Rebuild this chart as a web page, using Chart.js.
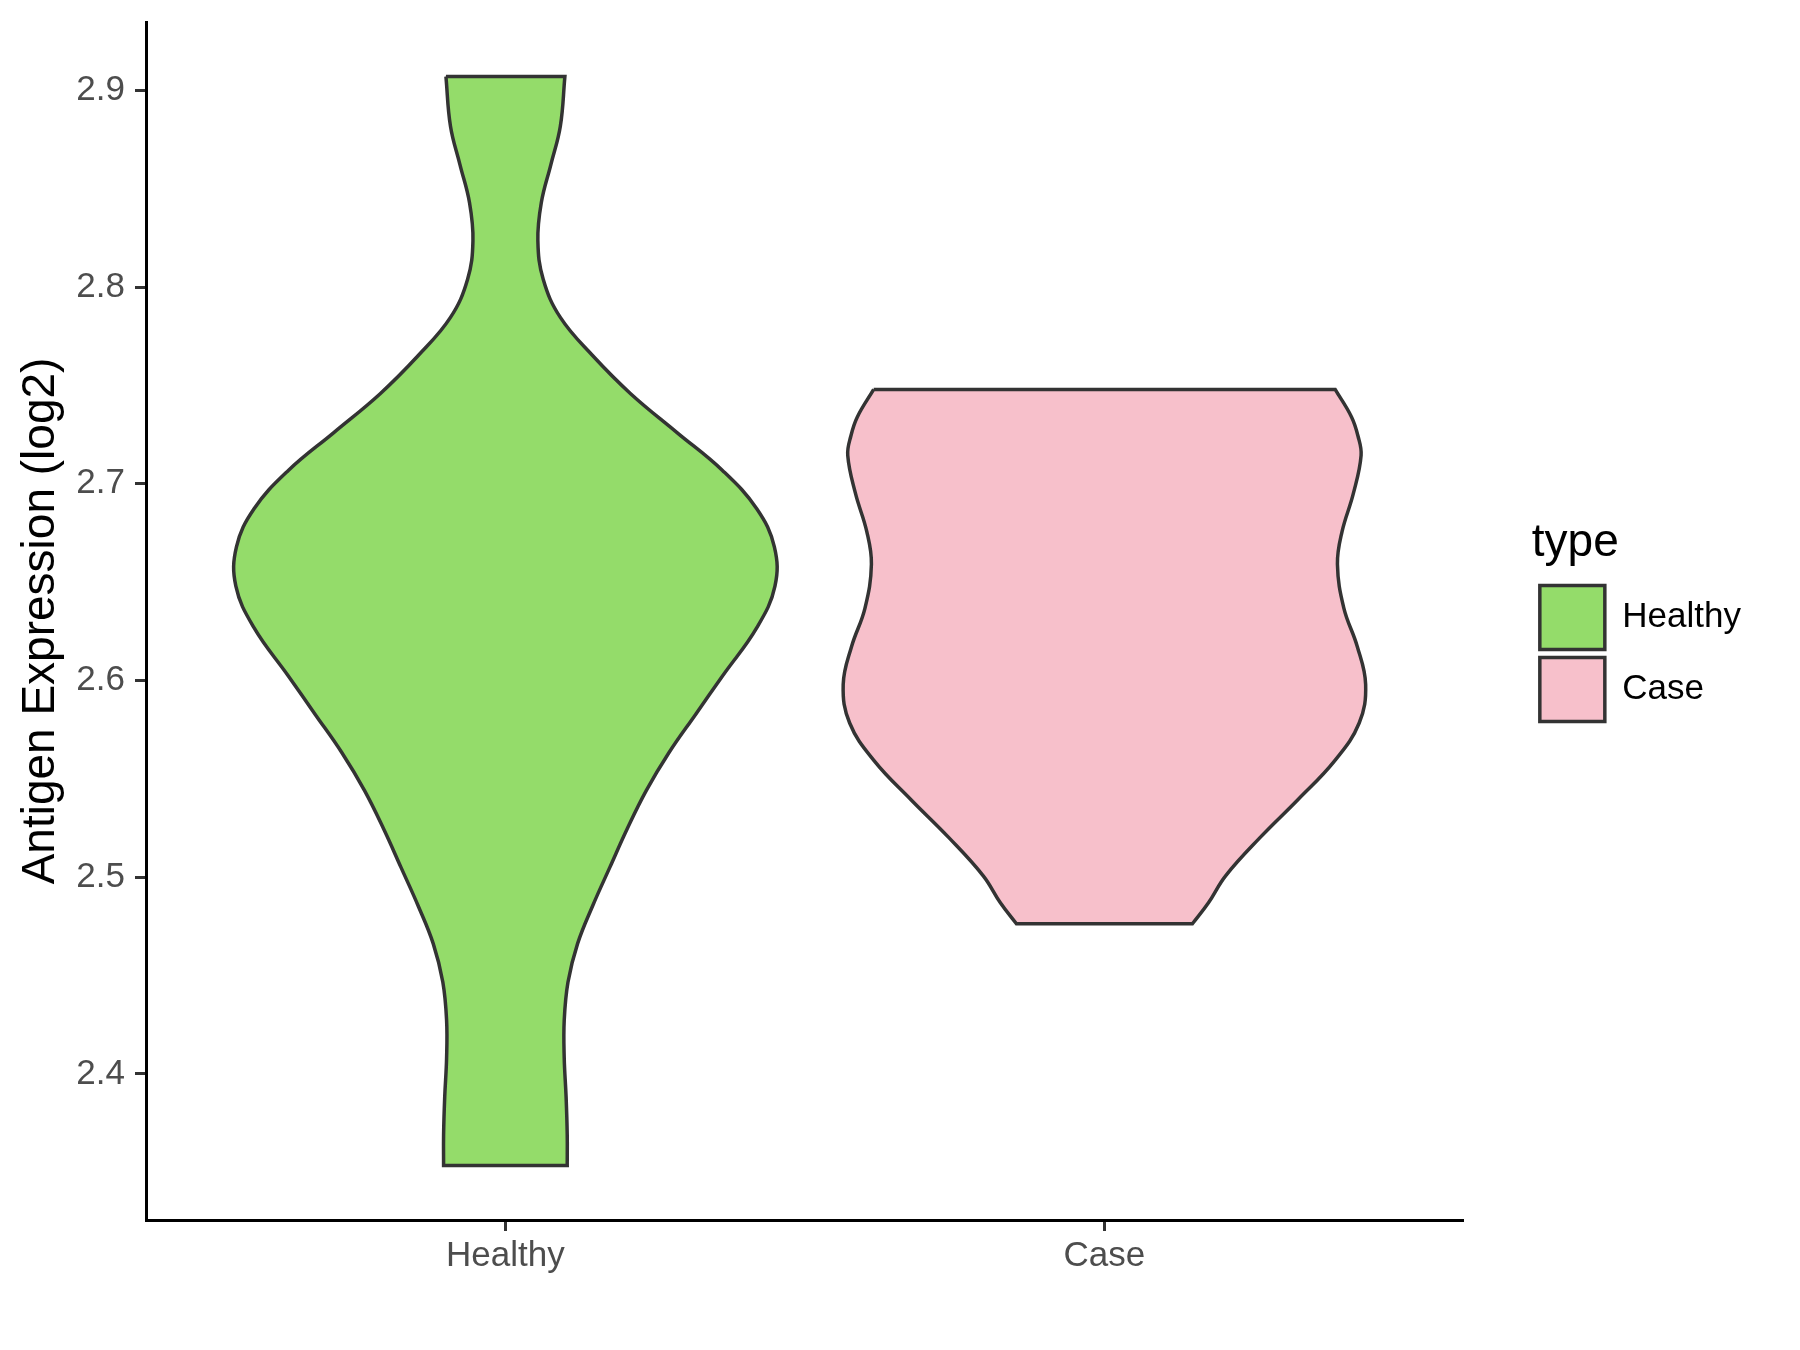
<!DOCTYPE html>
<html>
<head>
<meta charset="utf-8">
<script src="https://cdn.jsdelivr.net/npm/chart.js@4.4.1/dist/chart.umd.min.js"></script>
<style>
  html, body { margin: 0; padding: 0; background: #ffffff; }
  #wrap { width: 1800px; height: 1350px; }
</style>
</head>
<body>
<div id="wrap"><canvas id="violinChart" width="1800" height="1350"></canvas></div>
<script>
// categories and their positions on the x axis
const categories = ['Healthy', 'Case'];
const categoryPos = [1, 2];
const fillColors = ['#94dc6a', '#f7c0cb'];

// y tick labels
const yTicks = [2.4, 2.5, 2.6, 2.7, 2.8, 2.9];

// violin outlines: level (log2) and half width (x units)
const healthyLevels = [2.9071, 2.8818, 2.8623, 2.8429, 2.8235, 2.8040, 2.7846, 2.7651, 2.7457, 2.7262,
  2.7068, 2.6873, 2.6679, 2.6480, 2.6270, 2.6023, 2.5829, 2.5634, 2.5440,
  2.5245, 2.5051, 2.4856, 2.4662, 2.4467, 2.4273, 2.4079, 2.3884, 2.3690, 2.3534];
const healthyHalf = [0.0993, 0.0917, 0.0759, 0.0599, 0.0542, 0.0631, 0.0917, 0.1459, 0.2095, 0.2860,
  0.3624, 0.4196, 0.4490, 0.4500, 0.4200, 0.3624, 0.3178, 0.2732, 0.2351,
  0.2032, 0.1745, 0.1459, 0.1205, 0.1045, 0.0982, 0.0982, 0.1013, 0.1032, 0.1032];

const caseLevels = [2.7480, 2.7340, 2.7243, 2.7145, 2.6951, 2.6757, 2.6591, 2.6367, 2.6173, 2.5979,
  2.5784, 2.5590, 2.5395, 2.5201, 2.5007, 2.4870, 2.4763];
const caseHalf = [0.3852, 0.4125, 0.4233, 0.4285, 0.4156, 0.3967, 0.3890, 0.3998, 0.4221, 0.4361,
  0.4253, 0.3839, 0.3233, 0.2597, 0.2023, 0.1737, 0.1469];

// closed outline: flat top, right side down, flat bottom, left side up
function violinOutline(center, levels, half) {
  const n = levels.length;
  const pts = [];
  const tl = { x: center - half[0], y: levels[0] };
  const tr = { x: center + half[0], y: levels[0] };
  const br = { x: center + half[n - 1], y: levels[n - 1] };
  const bl = { x: center - half[n - 1], y: levels[n - 1] };
  pts.push(tl, tl, tr, tr);
  for (let i = 1; i < n - 1; i++) pts.push({ x: center + half[i], y: levels[i] });
  pts.push(br, br, bl, bl);
  for (let i = n - 2; i >= 1; i--) pts.push({ x: center - half[i], y: levels[i] });
  pts.push(tl, tl);
  return pts;
}

function noPadding(axis) {
  axis.paddingTop = 0;
  axis.paddingBottom = 0;
  axis.paddingLeft = 0;
  axis.paddingRight = 0;
}

Chart.defaults.font.family = '"Liberation Sans", Arial, sans-serif';

const ctx = document.getElementById('violinChart').getContext('2d');

const violinChart = new Chart(ctx, {
  type: 'scatter',
  data: {
    datasets: [
      {
        label: categories[0],
        data: violinOutline(categoryPos[0], healthyLevels, healthyHalf),
        showLine: true,
        fill: 'shape',
        backgroundColor: fillColors[0],
        borderColor: '#333333',
        borderWidth: 3.5,
        tension: 0.4,
        pointRadius: 0,
        pointHoverRadius: 0
      },
      {
        label: categories[1],
        data: violinOutline(categoryPos[1], caseLevels, caseHalf),
        showLine: true,
        fill: 'shape',
        backgroundColor: fillColors[1],
        borderColor: '#333333',
        borderWidth: 3.5,
        tension: 0.4,
        pointRadius: 0,
        pointHoverRadius: 0
      }
    ]
  },
  options: {
    responsive: false,
    devicePixelRatio: 1,
    animation: false,
    events: [],
    layout: { padding: { top: 22, left: 0, right: 49, bottom: 0 } },
    plugins: {
      tooltip: { enabled: false },
      legend: {
        display: true,
        position: 'right',
        align: 'center',
        fullSize: false,
        title: {
          display: true,
          text: 'type',
          position: 'start',
          color: '#000000',
          font: { size: 46 },
          padding: { top: 8, bottom: 2 }
        },
        labels: {
          boxWidth: 65,
          boxHeight: 64,
          padding: 8,
          color: '#000000',
          font: { size: 35 },
          generateLabels: () => categories.map((c, i) => ({
            text: c,
            fillStyle: fillColors[i],
            strokeStyle: '#333333',
            lineWidth: 3.5,
            hidden: false,
            datasetIndex: i
          }))
        }
      }
    },
    scales: {
      x: {
        type: 'linear',
        position: 'bottom',
        min: 0.4,
        max: 2.6,
        afterBuildTicks: (axis) => { axis.ticks = categoryPos.map(v => ({ value: v })); },
        afterFit: (axis) => { axis.height = 130; noPadding(axis); },
        ticks: {
          color: '#4d4d4d',
          font: { size: 35 },
          padding: 4,
          maxRotation: 0,
          callback: (value) => categories[categoryPos.indexOf(value)]
        },
        grid: {
          display: true,
          drawOnChartArea: false,
          drawTicks: true,
          tickLength: 11,
          tickColor: '#333333',
          tickWidth: 3
        },
        border: { display: true, color: '#000000', width: 3 }
      },
      y: {
        type: 'linear',
        position: 'left',
        min: 2.3257,
        max: 2.9348,
        afterBuildTicks: (axis) => { axis.ticks = yTicks.map(v => ({ value: v })); },
        afterFit: (axis) => { axis.width = 146; noPadding(axis); },
        title: {
          display: true,
          text: 'Antigen Expression (log2)',
          color: '#000000',
          font: { size: 46 },
          padding: { top: 14, bottom: 0 }
        },
        ticks: {
          color: '#4d4d4d',
          font: { size: 35 },
          padding: 10,
          callback: (value) => value.toFixed(1)
        },
        grid: {
          display: true,
          drawOnChartArea: false,
          drawTicks: true,
          tickLength: 11,
          tickColor: '#333333',
          tickWidth: 3
        },
        border: { display: true, color: '#000000', width: 3 }
      },
      // empty right axis used only as a gap between plot and legend
      gap: {
        type: 'linear',
        position: 'right',
        min: 0,
        max: 1,
        afterFit: (axis) => { axis.width = 68; noPadding(axis); },
        ticks: { display: false },
        grid: { display: false },
        border: { display: false }
      }
    }
  }
});
</script>
</body>
</html>
